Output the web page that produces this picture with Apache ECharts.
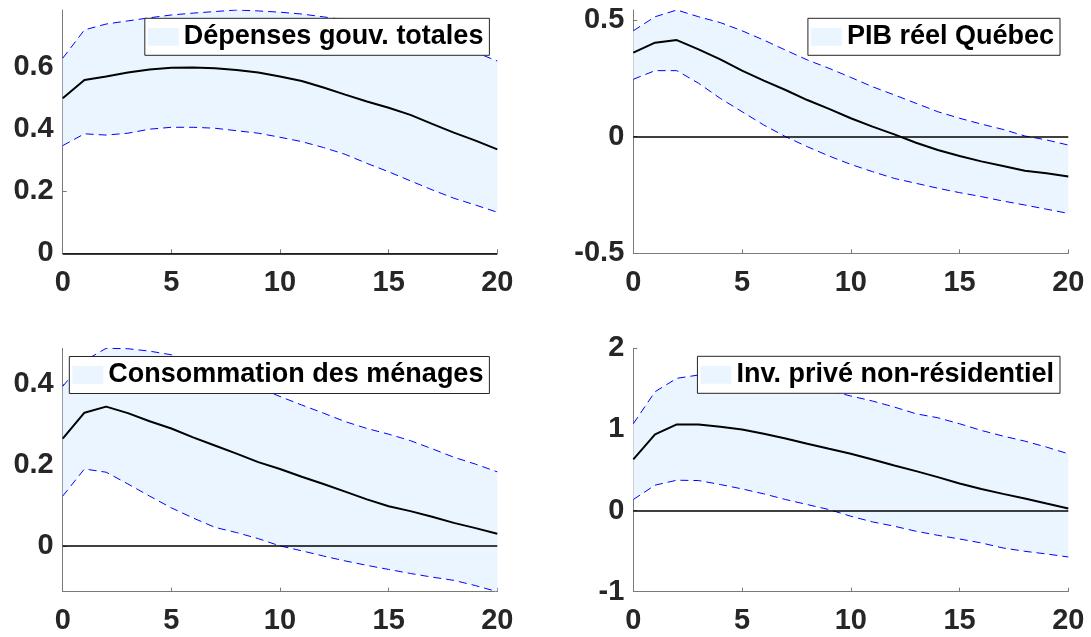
<!DOCTYPE html>
<html><head><meta charset="utf-8">
<script src="https://cdn.jsdelivr.net/npm/echarts@6/dist/echarts.min.js"></script>
<style>html,body{margin:0;padding:0;background:#fff}#c{width:1091px;height:637px}</style>
</head><body><div id="c"></div>
<script>
// ---- data ----
const steps = [0,1,2,3,4,5,6,7,8,9,10,11,12,13,14,15,16,17,18,19,20];
const xTicks = [0,5,10,15,20];
const titles = ['Dépenses gouv. totales','PIB réel Québec','Consommation des ménages','Inv. privé non-résidentiel'];

const mean1 = [0.498,0.557,0.568,0.581,0.591,0.596,0.597,0.595,0.589,0.581,0.568,0.554,0.533,0.510,0.488,0.468,0.445,0.416,0.388,0.362,0.334];
const up1   = [0.627,0.718,0.737,0.747,0.757,0.766,0.772,0.777,0.782,0.779,0.775,0.769,0.760,0.750,0.738,0.724,0.708,0.690,0.670,0.646,0.618];
const lo1   = [0.346,0.384,0.380,0.386,0.399,0.405,0.405,0.402,0.394,0.386,0.373,0.359,0.340,0.318,0.289,0.262,0.233,0.204,0.177,0.155,0.132];

const mean2 = [0.360,0.403,0.414,0.374,0.331,0.283,0.240,0.200,0.157,0.119,0.079,0.043,0.010,-0.026,-0.057,-0.083,-0.106,-0.126,-0.146,-0.157,-0.171];
const up2   = [0.454,0.514,0.543,0.514,0.489,0.454,0.414,0.371,0.329,0.293,0.254,0.214,0.179,0.143,0.107,0.079,0.054,0.031,0.003,-0.014,-0.036];
const lo2   = [0.246,0.283,0.283,0.229,0.164,0.107,0.050,0.000,-0.043,-0.083,-0.119,-0.150,-0.179,-0.200,-0.221,-0.240,-0.257,-0.276,-0.293,-0.311,-0.329];

const mean3 = [0.265,0.329,0.344,0.328,0.308,0.290,0.268,0.248,0.228,0.207,0.190,0.171,0.153,0.134,0.115,0.098,0.086,0.072,0.057,0.044,0.030];
const up3   = [0.394,0.457,0.488,0.487,0.481,0.472,0.457,0.437,0.414,0.391,0.369,0.348,0.328,0.307,0.290,0.276,0.260,0.240,0.219,0.202,0.183];
const lo3   = [0.123,0.190,0.182,0.153,0.123,0.094,0.069,0.046,0.033,0.018,0.000,-0.012,-0.025,-0.037,-0.048,-0.058,-0.068,-0.077,-0.085,-0.098,-0.113];

const mean4 = [0.630,0.938,1.062,1.062,1.033,1.000,0.947,0.889,0.823,0.761,0.700,0.630,0.556,0.486,0.412,0.333,0.267,0.206,0.148,0.086,0.025];
const up4   = [1.070,1.465,1.630,1.671,1.680,1.670,1.640,1.600,1.550,1.480,1.412,1.350,1.276,1.193,1.144,1.070,0.988,0.918,0.856,0.782,0.700];
const lo4   = [0.136,0.313,0.374,0.370,0.321,0.267,0.206,0.136,0.074,0.012,-0.070,-0.140,-0.193,-0.255,-0.305,-0.350,-0.399,-0.461,-0.502,-0.535,-0.572];

const yMin = [0, -0.5, -0.113, -1];
const yMax = [0.782, 0.543, 0.488, 2];
const yTicks = [[0,0.2,0.4,0.6],[-0.5,0,0.5],[0,0.2,0.4],[-1,0,1,2]];

// ---- styles / layout ----
const means = [mean1, mean2, mean3, mean4];
const ups = [up1, up2, up3, up4];
const los = [lo1, lo2, lo3, lo4];
const FONT = "'Liberation Sans', Arial, Helvetica, sans-serif";
const FILL = '#EBF5FF';
const AX = '#7a7a7a';
const grids = [
  {left: 62.7, top: 10, width: 434.6, height: 243.3},
  {left: 633.3, top: 10, width: 435, height: 243.3},
  {left: 62.7, top: 348.3, width: 434.6, height: 243.4},
  {left: 633.3, top: 348.3, width: 435, height: 243.4}
];
const legendPos = [
  {right: 601.6, top: 18.3},
  {right: 31, top: 18.3},
  {right: 601.6, top: 356.5},
  {right: 31, top: 356.3}
];

const xAxis = [], yAxis = [], series = [], legend = [];
for (let i = 0; i < 4; i++) {
  xAxis.push({
    type: 'value', gridIndex: i, min: 0, max: 20, interval: 5,
    axisLine: {show: true, onZero: false, lineStyle: {color: AX, width: 1}},
    axisTick: {show: true, inside: true, length: 4, lineStyle: {color: AX}, customValues: xTicks},
    axisLabel: {fontSize: 29, fontWeight: 'bold', color: '#262626', margin: 15, fontFamily: FONT, customValues: xTicks},
    splitLine: {show: false}
  });
  yAxis.push({
    type: 'value', gridIndex: i, min: yMin[i], max: yMax[i],
    axisLine: {show: true, onZero: false, lineStyle: {color: AX, width: 1}},
    axisTick: {show: true, inside: true, length: 4, lineStyle: {color: AX}, customValues: yTicks[i]},
    axisLabel: {fontSize: 29, fontWeight: 'bold', color: '#262626', margin: 9, fontFamily: FONT, customValues: yTicks[i]},
    splitLine: {show: false}
  });
  const up = ups[i], lo = los[i];
  series.push({
    name: titles[i], type: 'custom', xAxisIndex: i, yAxisIndex: i, silent: true, z: 1,
    itemStyle: {color: FILL},
    data: steps.map((k, j) => [k, lo[j], up[j]]),
    encode: {x: 0, y: [1, 2]},
    renderItem: function (params, api) {
      if (params.dataIndex !== 0) return null;
      const pts = [];
      for (let j = 0; j < steps.length; j++) pts.push(api.coord([steps[j], up[j]]));
      for (let j = steps.length - 1; j >= 0; j--) pts.push(api.coord([steps[j], lo[j]]));
      return {type: 'polygon', shape: {points: pts}, style: {fill: FILL, stroke: null}};
    }
  });
  series.push({
    type: 'line', xAxisIndex: i, yAxisIndex: i, silent: true, symbol: 'none', z: 3,
    data: steps.map((k, j) => [k, up[j]]),
    lineStyle: {color: '#0000ff', width: 1, type: [8, 5]}
  });
  series.push({
    type: 'line', xAxisIndex: i, yAxisIndex: i, silent: true, symbol: 'none', z: 3,
    data: steps.map((k, j) => [k, lo[j]]),
    lineStyle: {color: '#0000ff', width: 1, type: [8, 5]}
  });
  series.push({
    type: 'line', xAxisIndex: i, yAxisIndex: i, silent: true, symbol: 'none', z: 4,
    data: steps.map((k, j) => [k, means[i][j]]),
    lineStyle: {color: '#000', width: 2},
    markLine: {
      silent: true, symbol: 'none', label: {show: false}, animation: false,
      lineStyle: {color: '#000', width: 1.5, type: 'solid'},
      data: [{yAxis: 0}]
    }
  });
  legend.push(Object.assign({
    data: [{name: titles[i], icon: 'rect'}],
    selectedMode: false,
    orient: 'horizontal',
    backgroundColor: '#fff', borderColor: '#262626', borderWidth: 1,
    padding: [3, 6, 3, 3],
    itemWidth: 31, itemHeight: 18, itemGap: 0,
    itemStyle: {borderWidth: 0},
    textStyle: {fontSize: 27, fontWeight: 'bold', color: '#000', fontFamily: FONT, lineHeight: 31}
  }, legendPos[i]));
}

const chart = echarts.init(document.getElementById('c'), null, {renderer: 'canvas'});
chart.setOption({
  animation: false,
  backgroundColor: '#fff',
  grid: grids,
  xAxis: xAxis,
  yAxis: yAxis,
  legend: legend,
  series: series
});
</script>
</body></html>
